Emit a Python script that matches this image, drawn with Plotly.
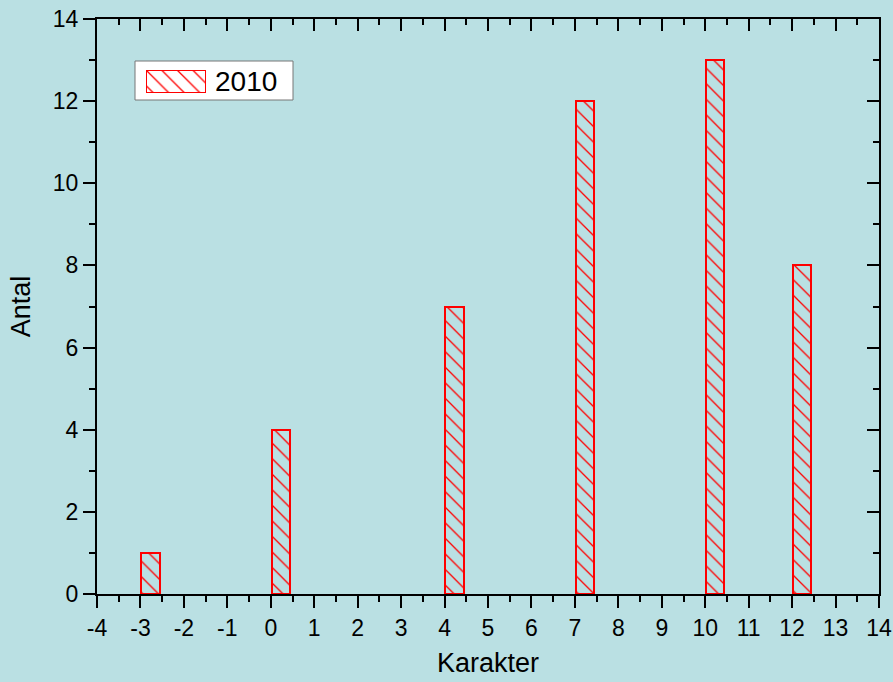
import plotly.graph_objects as go

# Data
series_name = "2010"
karakter = [-3, 0, 4, 7, 10, 12]
antal = [1, 4, 7, 12, 13, 8]
x_tickvals = list(range(-4, 15))
x_ticktext = [str(v) for v in x_tickvals]
y_tickvals = list(range(0, 15, 2))
y_ticktext = [str(v) for v in y_tickvals]

BG = "#BAE0E3"
FONT = "Arial, Liberation Sans, sans-serif"

bar_style = dict(
    color=BG,
    line=dict(color="red", width=2),
    pattern=dict(shape="\\", fgcolor="#FF0000", bgcolor=BG, fgopacity=1, size=11,
                 solidity=0.12, fillmode="replace"),
)

fig = go.Figure()
fig.add_trace(go.Bar(x=karakter, y=antal, width=0.42, offset=0.02, marker=bar_style,
                     name=series_name, showlegend=False, xaxis="x", yaxis="y"))
# dummy trace for mirrored axes
fig.add_trace(go.Scatter(x=[None], y=[None], xaxis="x2", yaxis="y2", showlegend=False, hoverinfo="skip"))
# legend symbol
legend_style = dict(bar_style)
legend_style["color"] = "white"
legend_style["pattern"] = dict(bar_style["pattern"], bgcolor="white")
fig.add_trace(go.Bar(x=[0], y=[1], width=1, marker=legend_style, showlegend=False,
                     xaxis="x3", yaxis="y3", hoverinfo="skip"))

W, H = 893, 682
L, R, T, B = 97, 14, 19, 88
pw, ph = W - L - R, H - T - B

def px_x(p):
    return (p - L) / pw

def px_y(p):
    return (H - B - p) / ph

common_axis = dict(showline=True, linecolor="black", linewidth=2, showgrid=False, zeroline=False,
                   tickcolor="black", tickwidth=2, ticklen=12, automargin=False)

fig.update_layout(
    width=W, height=H,
    margin=dict(l=L, r=R, t=T, b=B, autoexpand=False),
    paper_bgcolor=BG, plot_bgcolor=BG,
    font=dict(family=FONT, color="black", size=23),
    showlegend=False,
    xaxis=dict(range=[-4, 14], tickmode="array", tickvals=x_tickvals, ticktext=x_ticktext,
               ticks="outside",
               minor=dict(dtick=0.5, ticks="outside", ticklen=6, tickwidth=2, tickcolor="black"),
               title=dict(text="Karakter", font=dict(size=27), standoff=14),
               tickfont=dict(size=23), **common_axis),
    yaxis=dict(range=[0, 14], tickmode="array", tickvals=y_tickvals, ticktext=y_ticktext,
               ticks="outside",
               minor=dict(dtick=1, ticks="outside", ticklen=6, tickwidth=2, tickcolor="black"),
               title=dict(text="Antal", font=dict(size=27), standoff=14),
               tickfont=dict(size=23), **common_axis),
    xaxis2=dict(range=[-4, 14], dtick=1, tick0=0, ticks="inside", overlaying="x", side="top",
                showticklabels=False, anchor="y2",
                minor=dict(dtick=0.5, ticks="inside", ticklen=6, tickwidth=2, tickcolor="black"),
                **common_axis),
    yaxis2=dict(range=[0, 14], dtick=2, tick0=0, ticks="inside", overlaying="y", side="right",
                showticklabels=False, anchor="x2",
                minor=dict(dtick=1, ticks="inside", ticklen=6, tickwidth=2, tickcolor="black"),
                **common_axis),
    xaxis3=dict(domain=[px_x(146), px_x(206)], range=[-0.5, 0.5], visible=False, anchor="y3"),
    yaxis3=dict(domain=[px_y(93), px_y(70)], range=[0, 1], visible=False, anchor="x3"),
    bargap=0,
)

# legend box
fig.add_shape(type="rect", xref="paper", yref="paper",
              x0=px_x(135), x1=px_x(293), y0=px_y(100), y1=px_y(61),
              fillcolor="white", line=dict(color="#777777", width=1), layer="below")
fig.add_annotation(text=series_name, xref="paper", yref="paper", x=px_x(213), y=px_y(81),
                   xanchor="left", yanchor="middle", showarrow=False, font=dict(size=28, color="black"))

fig.write_html("out.html")
